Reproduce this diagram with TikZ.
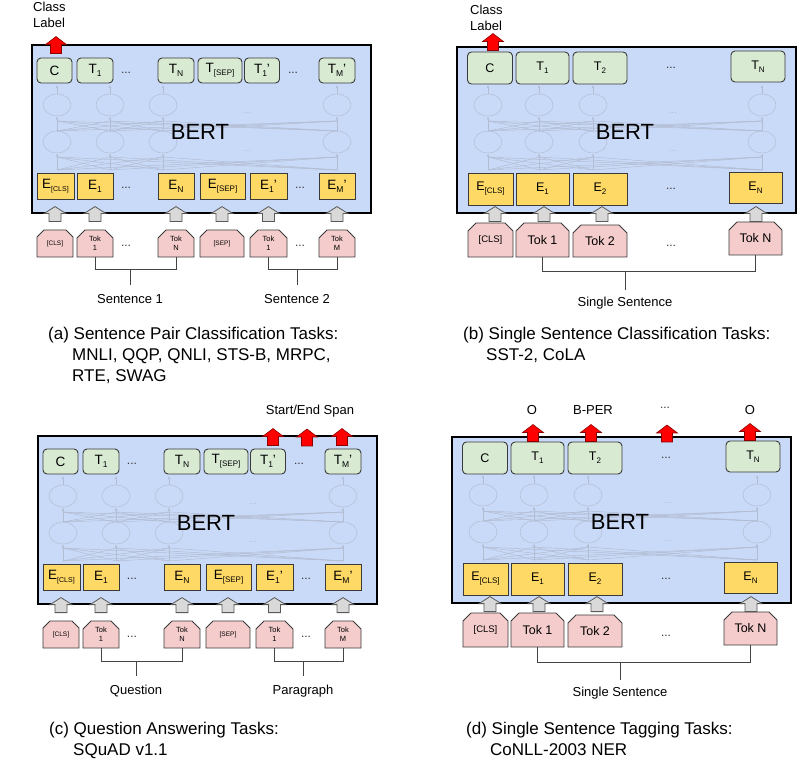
\documentclass[tikz,border=0pt]{standalone}
\usepackage{fontspec}
\setmainfont{Liberation Sans}
\usetikzlibrary{shapes.misc,arrows.meta}
\definecolor{bertblue}{HTML}{C9DAF8}
\definecolor{outgreen}{HTML}{D9EAD3}
\definecolor{embyellow}{HTML}{FFD966}
\definecolor{tokpink}{HTML}{F4CCCC}
\definecolor{nodeborder}{HTML}{3A3A3A}
\definecolor{netcol}{RGB}{178,188,210}
\definecolor{arrgray}{HTML}{D9D9D9}
\definecolor{arrborder}{HTML}{595959}
\definecolor{redfill}{HTML}{FF0000}
\definecolor{redborder}{HTML}{8A0000}
\definecolor{brackcol}{HTML}{444444}
\newcommand\fsz[1]{\fontsize{#1}{#1}\selectfont}
\newcommand\lowsub[2][8.5]{\raisebox{-3pt}{\fontsize{#1}{#1}\selectfont #2}}
\tikzset{
  bertbox/.style={draw=black, line width=2, fill=bertblue, inner sep=0},
  berttext/.style={inner sep=0, font={\fsz{22}}},
  outbox/.style={draw=nodeborder, line width=0.9, fill=outgreen, rounded corners=4, inner sep=0},
  embbox/.style={draw=nodeborder, line width=0.9, fill=embyellow, inner sep=0},
  tokbox/.style={chamfered rectangle, chamfered rectangle corners={north west,north east},
     chamfered rectangle xsep=4pt, chamfered rectangle ysep=4pt,
     draw=nodeborder, line width=0.8, fill=tokpink, inner sep=0, align=center},
  dotsnode/.style={inner sep=0, font={\fsz{12}}, text=black!80},
  netline/.style={draw=netcol, line width=0.5},
  netarrow/.style={netline, -{Latex[length=3pt,width=2.5pt]}},
  netdots/.style={inner sep=0, font={\fsz{10}}, text=netcol},
  brack/.style={draw=brackcol, line width=1},
  lab/.style={inner sep=0, font={\fsz{13}}, text height=9.3pt, text depth=0pt},
  capt/.style={anchor=west, inner sep=0, font={\fsz{17}}, text height=12.2pt, text depth=0pt},
  garrow/.style={draw=arrborder, fill=arrgray, line width=0.8},
  rarrow/.style={draw=redborder, fill=redfill, line width=0.6},
  fatup/.pic={\path[pic actions] (-6,0) -- (-6,-8) -- (-11,-8) -- (0,-15) -- (11,-8) -- (6,-8) -- (6,0) -- cycle;},
  redup/.pic={\path[pic actions] (-5.5,0) -- (-5.5,-9) -- (-10.5,-9) -- (0,-17) -- (10.5,-9) -- (5.5,-9) -- (5.5,0) -- cycle;}
}
\newcommand\hiddennet[5]{%
  \foreach \a in {#1,#2,#3,#4}{%
    \draw[netline] (\a,105) ellipse [x radius=14, y radius=11];
    \draw[netline] (\a,142) ellipse [x radius=14, y radius=11];
    \draw[netarrow] (\a,94) -- (\a,85);
    \draw[netarrow] (\a,121) -- (\a,116.5);
    \draw[netarrow] (\a,157) -- (\a,153.5);
    \foreach \b in {#1,#2,#3,#4}{%
      \draw[netline] (\a,170) -- (\b,157);
      \draw[netline] (\a,131) -- (\b,121);
    }
  }
  \node[netdots] at (#5,113) {...};
  \node[netdots] at (#5,151) {...};
}
% ---------- pair panel (a / c) ----------
\newcommand\pairpanel[3]{% prefix, label1, label2
  \node[bertbox, minimum width=339, minimum height=168] (#1box) at (201.5,129) {};
  \hiddennet{57}{110}{163}{337}{247}
  \node[berttext] (#1bert) at (200,132) {BERT};
  \begin{scope}[every node/.append style={font={\fsz{13.5}}}]
  \node[outbox, minimum width=35, minimum height=25] (#1C) at (54.5,70.5) {C};
  \node[outbox, minimum width=36, minimum height=25] (#1T1) at (95,70.5) {T\lowsub{1}};
  \node[dotsnode] at (126,73) {...};
  \node[outbox, minimum width=36, minimum height=25] (#1TN) at (176,70.5) {T\lowsub{N}};
  \node[outbox, minimum width=44, minimum height=25] (#1TS) at (220,70.5) {T\lowsub[8]{[SEP]}};
  \node[outbox, minimum width=35, minimum height=25] (#1Ta) at (262,70.5) {T\lowsub{1}'};
  \node[dotsnode] at (293,73) {...};
  \node[outbox, minimum width=36, minimum height=25] (#1TM) at (337,70.5) {T\lowsub{M}'};
  \node[embbox, minimum width=37, minimum height=26] (#1ECLS) at (55.5,186) {E\lowsub[7]{[CLS]}};
  \node[embbox, minimum width=36, minimum height=26] (#1E1) at (95,186) {E\lowsub{1}};
  \node[dotsnode] at (126,188) {...};
  \node[embbox, minimum width=36, minimum height=26] (#1EN) at (176,186) {E\lowsub{N}};
  \node[embbox, minimum width=45, minimum height=26] (#1ES) at (222.5,186) {E\lowsub[8]{[SEP]}};
  \node[embbox, minimum width=37, minimum height=26] (#1Ea) at (268.5,186) {E\lowsub{1}'};
  \node[dotsnode] at (300,188) {...};
  \node[embbox, minimum width=36, minimum height=26] (#1EM) at (337,186) {E\lowsub{M}'};
  \end{scope}
  \begin{scope}[every node/.append style={font={\fontsize{7.5}{9.5}\selectfont}}]
  \node[tokbox, minimum width=36, minimum height=27, font={\fsz{6.5}}] (#1KC) at (55,243.5) {[CLS]};
  \node[tokbox, minimum width=36, minimum height=27] (#1K1) at (95,243.5) {Tok\\1};
  \node[dotsnode] at (126,246) {...};
  \node[tokbox, minimum width=36, minimum height=27] (#1KN) at (176,243.5) {Tok\\N};
  \node[tokbox, minimum width=44, minimum height=27, font={\fsz{6.5}}] (#1KS) at (222,243.5) {[SEP]};
  \node[tokbox, minimum width=37, minimum height=27] (#1Ka) at (268.5,243.5) {Tok\\1};
  \node[dotsnode] at (300,246) {...};
  \node[tokbox, minimum width=36, minimum height=27] (#1KM) at (337,243.5) {Tok\\M};
  \end{scope}
  \foreach \k in {KC,K1,KN,KS,Ka,KM}{\pic[garrow] at ([yshift=8pt]#1\k.north) {fatup};}
  \node[lab] (#1L1) at (130,299) {#2};
  \node[lab] (#1L2) at (297,299) {#3};
  \coordinate (#1B1) at (130,270);
  \coordinate (#1B2) at (297,270);
  \draw[brack] (#1K1.south) |- (#1KN.south |- #1B1) -- (#1KN.south);
  \draw[brack] (#1B1) -- ([yshift=9pt]#1L1.north);
  \draw[brack] (#1Ka.south) |- (#1KM.south |- #1B2) -- (#1KM.south);
  \draw[brack] (#1B2) -- ([yshift=9pt]#1L2.north);
}
% ---------- single panel (b / d) ----------
\newcommand\singlepanel[1]{%
  \node[bertbox, minimum width=339, minimum height=166] (#1box) at (626.5,130) {};
  \hiddennet{488}{539}{593}{762}{673}
  \node[berttext] (#1bert) at (625,132) {BERT};
  \begin{scope}[every node/.append style={font={\fsz{12.5}}}]
  \node[outbox, minimum width=45, minimum height=32] (#1C) at (490,68) {C};
  \node[outbox, minimum width=53, minimum height=32] (#1T1) at (542.5,68) {T\lowsub[8]{1}};
  \node[outbox, minimum width=54, minimum height=32] (#1T2) at (600,68) {T\lowsub[8]{2}};
  \node[dotsnode] at (671,68) {...};
  \node[outbox, minimum width=54, minimum height=31] (#1TN) at (758,66.5) {T\lowsub[8]{N}};
  \node[embbox, minimum width=45, minimum height=32] (#1ECLS) at (490.5,189) {E\lowsub[8]{[CLS]}};
  \node[embbox, minimum width=53, minimum height=32] (#1E1) at (542.5,189) {E\lowsub[8]{1}};
  \node[embbox, minimum width=54, minimum height=32] (#1E2) at (600,189) {E\lowsub[8]{2}};
  \node[dotsnode] at (671,189) {...};
  \node[embbox, minimum width=53, minimum height=31] (#1EN) at (755.5,187.5) {E\lowsub[8]{N}};
  \node[tokbox, minimum width=45, minimum height=34, font={\fsz{9.5}}] (#1KC) at (490.5,240) {[CLS]};
  \node[tokbox, minimum width=53, minimum height=34] (#1K1) at (542.5,240) {Tok 1};
  \node[tokbox, minimum width=54, minimum height=32] (#1K2) at (600,241) {Tok 2};
  \node[dotsnode] at (671,246) {...};
  \node[tokbox, minimum width=53, minimum height=33] (#1KN) at (755.5,238.5) {Tok N};
  \end{scope}
  \pic[garrow] at ([xshift=4.5pt,yshift=1pt]#1KC.north) {fatup};
  \pic[garrow] at ([xshift=1.5pt,yshift=1pt]#1K1.north) {fatup};
  \pic[garrow] at ([xshift=2pt,yshift=3pt]#1K2.north) {fatup};
  \pic[garrow] at ([xshift=0.5pt]#1KN.north) {fatup};
  \node[lab] (#1L) at (625,302) {Single Sentence};
  \coordinate (#1B) at (625,272);
  \draw[brack] (#1K1.south) |- (#1KN.south |- #1B) -- (#1KN.south);
  \draw[brack] (#1B) -- ([yshift=7pt]#1L.north);
}
\begin{document}
\begin{tikzpicture}[x=1pt,y=-1pt]
\useasboundingbox (0,0) rectangle (807,762);
% (a)
\pairpanel{a}{Sentence 1}{Sentence 2}
\node[lab, align=left, anchor=north west, font={\fontsize{13}{16}\selectfont}, text height=] (aCL) at (33,2) {Class\\Label};
\pic[rarrow] at ([xshift=1.5pt,yshift=4pt]aC.north) {redup};
% (b)
\singlepanel{b}
\node[lab, align=left, anchor=north west, font={\fontsize{13}{16}\selectfont}, text height=] (bCL) at (470,5) {Class\\Label};
\pic[rarrow] at ([xshift=3pt,yshift=1pt]bC.north) {redup};
% (c)
\begin{scope}[shift={(6,391)}]
\pairpanel{c}{Question}{Paragraph}
\node[lab] (cSpan) at (304,19) {Start/End Span};
\pic[rarrow] at ([xshift=5pt,yshift=3pt]cTa.north) {redup};
\coordinate (cMid) at (301,55);
\pic[rarrow] at (cMid) {redup};
\pic[rarrow] at ([xshift=-1pt,yshift=3pt]cTM.north) {redup};
\end{scope}
% (d)
\begin{scope}[shift={(-5,390)}]
\singlepanel{d}
\node[lab] (dO1) at (537,20) {O};
\node[lab] (dBP) at (598,20) {B-PER};
\node[dotsnode] (dDots) at (670,18) {...};
\node[lab] (dO2) at (755,20) {O};
\pic[rarrow] at ([xshift=-4.5pt]dT1.north) {redup};
\pic[rarrow] at ([xshift=-4pt]dT2.north) {redup};
\coordinate (dMid) at (672,52);
\pic[rarrow] at (dMid) {redup};
\pic[rarrow] at ([xshift=-3pt]dTN.north) {redup};
\end{scope}
% captions
\node[capt] at (48,333) {(a) Sentence Pair Classification Tasks:};
\node[capt] at (72,354) {MNLI, QQP, QNLI, STS-B, MRPC,};
\node[capt] at (72,375) {RTE, SWAG};
\node[capt] at (463,333) {(b) Single Sentence Classification Tasks:};
\node[capt] at (486,354) {SST-2, CoLA};
\node[capt] at (49,728) {(c) Question Answering Tasks:};
\node[capt] at (73,749) {SQuAD v1.1};
\node[capt] at (466,728) {(d) Single Sentence Tagging Tasks:};
\node[capt] at (490,749) {CoNLL-2003 NER};
\end{tikzpicture}
\end{document}
